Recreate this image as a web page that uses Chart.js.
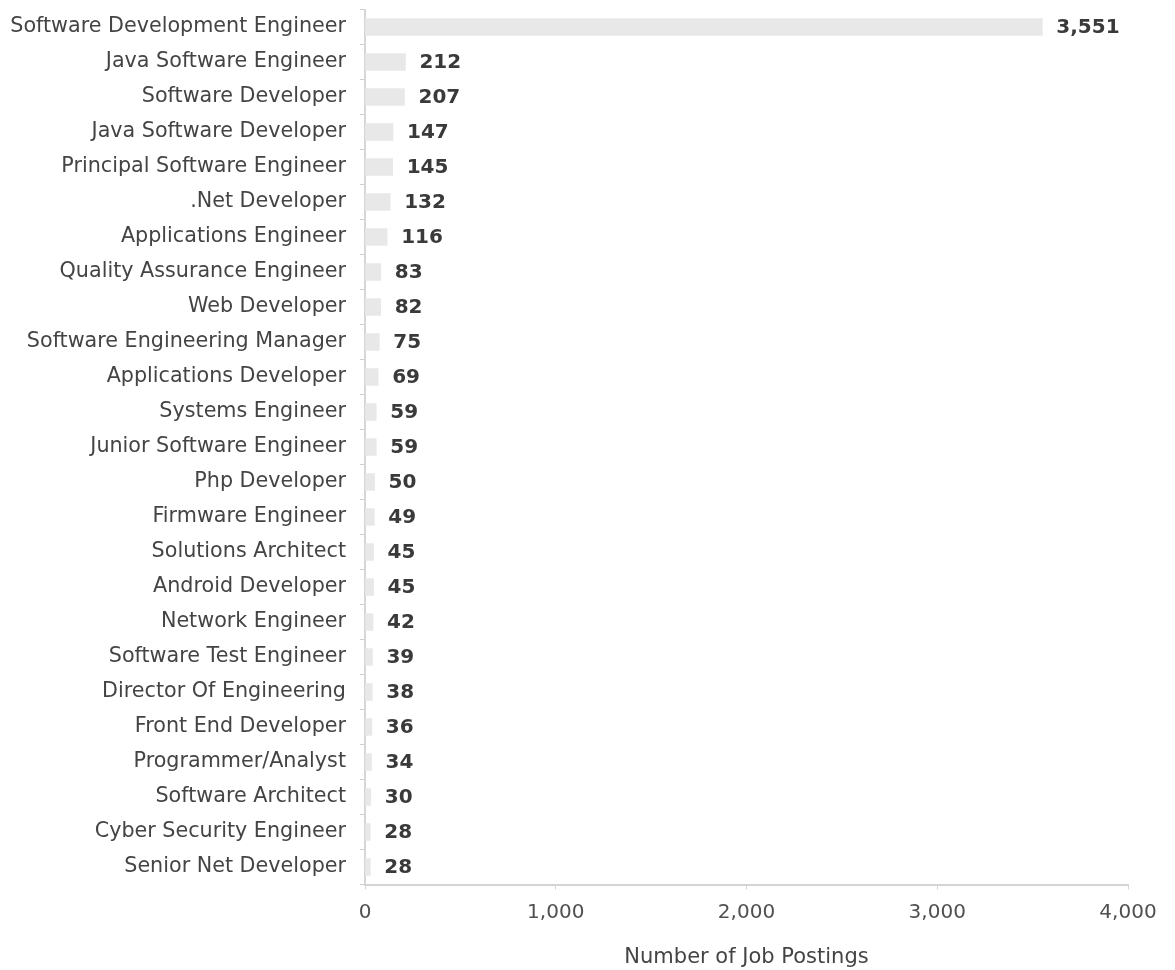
<!DOCTYPE html>
<html>
<head>
<meta charset="utf-8">
<script src="https://cdn.jsdelivr.net/npm/chart.js@4"></script>
<style>
  html, body { margin: 0; padding: 0; background: #ffffff; }
  #wrap { width: 1175px; height: 970px; position: relative; }
</style>
</head>
<body>
<div id="wrap"><canvas id="chart" width="1175" height="970"></canvas></div>
<script>
// Job titles and their posting counts
const jobTitles = [
  "Software Development Engineer",
  "Java Software Engineer",
  "Software Developer",
  "Java Software Developer",
  "Principal Software Engineer",
  ".Net Developer",
  "Applications Engineer",
  "Quality Assurance Engineer",
  "Web Developer",
  "Software Engineering Manager",
  "Applications Developer",
  "Systems Engineer",
  "Junior Software Engineer",
  "Php Developer",
  "Firmware Engineer",
  "Solutions Architect",
  "Android Developer",
  "Network Engineer",
  "Software Test Engineer",
  "Director Of Engineering",
  "Front End Developer",
  "Programmer/Analyst",
  "Software Architect",
  "Cyber Security Engineer",
  "Senior Net Developer"
];
const postingCounts = [
  3551, 212, 207, 147, 145, 132, 116, 83, 82, 75, 69, 59, 59, 50,
  49, 45, 45, 42, 39, 38, 36, 34, 30, 28, 28
];
const xTickValues = [0, 1000, 2000, 3000, 4000];
const xAxisTitle = "Number of Job Postings";

const FONT = "'DejaVu Sans', Verdana, sans-serif";
const fmt = v => v.toLocaleString("en-US");

// Writes each bar's count just past its end
const valueLabels = {
  id: "valueLabels",
  afterDatasetsDraw(chart) {
    const ctx = chart.ctx;
    const meta = chart.getDatasetMeta(0);
    ctx.save();
    ctx.font = "bold 20px " + FONT;
    ctx.fillStyle = "#3a3a3a";
    ctx.textAlign = "left";
    ctx.textBaseline = "middle";
    meta.data.forEach((bar, i) => {
      ctx.fillText(fmt(postingCounts[i]), bar.x + 14, bar.y + 1);
    });
    ctx.restore();
  }
};

new Chart(document.getElementById("chart"), {
  type: "bar",
  data: {
    labels: jobTitles,
    datasets: [{
      data: postingCounts,
      backgroundColor: "#e8e8e8",
      borderWidth: 0,
      barThickness: 17
    }]
  },
  options: {
    indexAxis: "y",
    responsive: false,
    animation: false,
    layout: { padding: { top: 9.5, right: 47, bottom: 0, left: 0 } },
    plugins: { legend: { display: false }, tooltip: { enabled: false } },
    scales: {
      x: {
        min: 0,
        max: 4000,
        afterBuildTicks(scale) { scale.ticks = xTickValues.map(v => ({ value: v })); },
        afterFit(scale) {
          scale.height = 85.5;
          scale.paddingLeft = 0;
          scale.paddingRight = 0;
        },
        grid: { display: true, drawOnChartArea: false, color: "#d6d6d6", tickLength: 5 },
        border: { color: "#d4d4d4", width: 2 },
        ticks: {
          color: "#505050",
          font: { family: FONT, size: 20 },
          padding: 11,
          callback: v => fmt(v)
        },
        title: {
          display: true,
          text: xAxisTitle,
          color: "#444444",
          font: { family: FONT, size: 21 },
          padding: { top: 10, bottom: 0 }
        }
      },
      y: {
        offset: true,
        afterFit(scale) {
          scale.width = 365;
          scale.paddingTop = 0;
          scale.paddingBottom = 0;
        },
        grid: { display: true, drawOnChartArea: false, offset: true, color: "#cfcfcf", tickLength: 5 },
        border: { color: "#d6d6d6", width: 2 },
        ticks: {
          color: "#444444",
          font: { family: FONT, size: 20.7 },
          padding: 14,
          autoSkip: false
        }
      }
    }
  },
  plugins: [valueLabels]
});
</script>
</body>
</html>
